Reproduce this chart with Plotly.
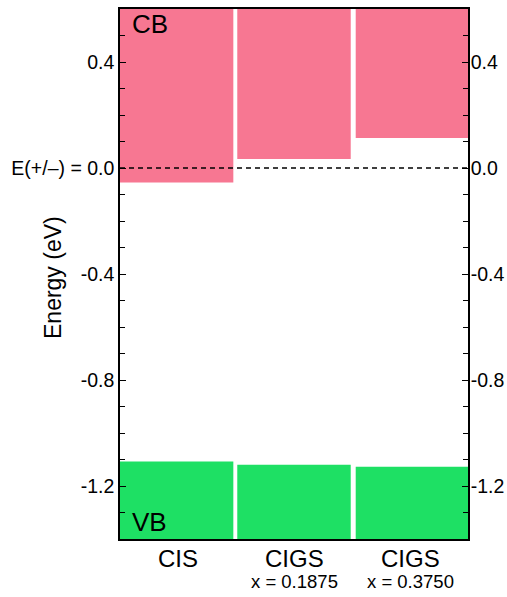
import plotly.graph_objects as go

# Band edges (eV) relative to the E(+/-) level
materials = ["CIS", "CIGS", "CIGS"]
compositions = ["", "x = 0.1875", "x = 0.3750"]
cb_minimum = [-0.055, 0.034, 0.113]
vb_maximum = [-1.108, -1.120, -1.127]

# Energy axis
y_range = [-1.4, 0.6]
tick_values = [0.4, 0.0, -0.4, -0.8, -1.2]
tick_left = ["0.4", "E(+/–) = 0.0", "-0.4", "-0.8", "-1.2"]
tick_right = ["0.4", "0.0", "-0.4", "-0.8", "-1.2"]

CB_COLOR = "#F77792"
VB_COLOR = "#1EE064"
FONT = "Liberation Sans, Arial, sans-serif"

x_pos = list(range(len(materials)))
bar_offset = [-0.5, -0.489, -0.468]
bar_width = [0.977, 0.978, 0.968]

CB_TOP = 1.0     # bands run past the visible window
VB_BOTTOM = -2.0

fig = go.Figure()
fig.add_trace(go.Bar(
    x=x_pos, base=cb_minimum, y=[CB_TOP - b for b in cb_minimum],
    offset=bar_offset, width=bar_width,
    marker=dict(color=CB_COLOR, line=dict(width=0)),
    hoverinfo="skip", showlegend=False,
))
fig.add_trace(go.Bar(
    x=x_pos, base=[VB_BOTTOM] * len(vb_maximum),
    y=[v - VB_BOTTOM for v in vb_maximum],
    offset=bar_offset, width=bar_width,
    marker=dict(color=VB_COLOR, line=dict(width=0)),
    hoverinfo="skip", showlegend=False,
))
# invisible trace so the right-hand axis is drawn
fig.add_trace(go.Scatter(x=[0], y=[0], yaxis="y2", mode="markers",
                         marker=dict(opacity=0), hoverinfo="skip",
                         showlegend=False))

# E(+/-) reference level
fig.add_shape(type="line", xref="paper", x0=0, x1=1, yref="y", y0=0, y1=0,
              line=dict(color="black", width=1.5, dash="5px,4px"), layer="above")


def energy_axis(labels, side, standoff):
    return dict(
        range=y_range, tickvals=tick_values, ticktext=labels, side=side,
        tickmode="array", ticks="inside", ticklen=6, tickwidth=1,
        tickcolor="black", showline=True, linecolor="black", linewidth=1.5,
        showgrid=False, zeroline=False, automargin=False,
        ticklabelstandoff=standoff,
        tickfont=dict(family=FONT, size=19.5, color="black"),
        minor=dict(dtick=0.1, ticks="inside", ticklen=5, tickcolor="black",
                   showgrid=False),
    )


fig.update_layout(
    width=507, height=597,
    margin=dict(l=120, r=39, t=7, b=58),
    plot_bgcolor="white", paper_bgcolor="white",
    barmode="overlay",
    font=dict(family=FONT, color="black"),
    xaxis=dict(range=[-0.5, 2.5], showticklabels=False, ticks="",
               showgrid=False, zeroline=False, showline=True,
               linecolor="black", linewidth=1.5, mirror=True),
    yaxis=energy_axis(tick_left, "left", 0),
    yaxis2=dict(overlaying="y", **energy_axis(tick_right, "right", -3)),
)

annotations = [
    dict(text="CB", xref="paper", yref="paper", x=0, y=1, xanchor="left",
         yanchor="top", xshift=10, yshift=2, showarrow=False,
         font=dict(size=26)),
    dict(text="VB", xref="paper", yref="paper", x=0, y=0, xanchor="left",
         yanchor="bottom", xshift=10, yshift=0, showarrow=False,
         font=dict(size=26)),
    dict(text="Energy (eV)", xref="paper", yref="paper", x=0, y=0.5,
         xanchor="center", yanchor="middle", xshift=-67, yshift=-4,
         textangle=-90, showarrow=False, font=dict(size=23)),
]
for xi, name, comp in zip(x_pos, materials, compositions):
    annotations.append(dict(text=name, x=xi, xref="x", y=0, yref="paper",
                            yanchor="middle", yshift=-19, showarrow=False,
                            font=dict(size=24)))
    if comp:
        annotations.append(dict(text=comp, x=xi, xref="x", y=0, yref="paper",
                                yanchor="middle", yshift=-42, showarrow=False,
                                font=dict(size=18.5)))
fig.update_layout(annotations=annotations)

fig.write_html("out.html")
